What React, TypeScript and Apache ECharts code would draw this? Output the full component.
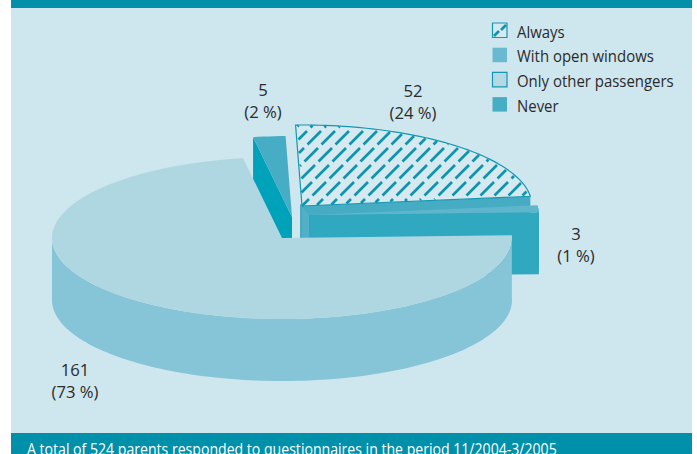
import React, { useEffect, useRef } from "react";
import * as echarts from "echarts";

// Parents' answers: who travels in a car where smoking takes place.
const categories = ["Always", "With open windows", "Only other passengers", "Never"];
const counts = [52, 3, 161, 5];
const percentLabels = ["24 %", "1 %", "73 %", "2 %"];
const footnote = "A total of 524 parents responded to questionnaires in the period 11/2004-3/2005";

const WIDTH = 697;
const HEIGHT = 454;
const RX = 230;
const RY = 81;
const DEPTH = 62;
const START_DEG = 91.6;

const centers = [
  [302, 206],
  [309, 215],
  [282, 238],
  [292, 217],
];
const topFills = ["#d4e9f0", "#5fb6cc", "#afd7e2", "#47adc5"];
const wallFills = ["#45acc4", "#2fa8c0", "#86c4d7", "#00a2b9"];
const labelSpots = [
  [413, 101],
  [576, 244],
  [75, 380],
  [263, 100],
];

const INK = "#2b2b2b";
const TEAL = "#0090aa";
const FONT = '"Open Sans", sans-serif';

const total = counts.reduce((a, b) => a + b, 0);

function sliceAngles(index: number) {
  let from = START_DEG;
  for (let i = 0; i < index; i++) from -= (counts[i] / total) * 360;
  return [from, from - (counts[index] / total) * 360];
}

function arcPoints(cx: number, cy: number, a: number, b: number, dy = 0) {
  const n = Math.max(2, Math.ceil(Math.abs(a - b) / 1.5));
  const pts: number[][] = [];
  for (let i = 0; i <= n; i++) {
    const t = ((a + ((b - a) * i) / n) * Math.PI) / 180;
    pts.push([cx + RX * Math.cos(t), cy - RY * Math.sin(t) + dy]);
  }
  return pts;
}

// Dashed 45-degree hatching, cut to the inside of the elliptical sector.
function hatchSegments(cx: number, cy: number, a: number, b: number) {
  const inside = (x: number, y: number) => {
    const u = (x - cx) / RX;
    const v = (cy - y) / RY;
    if (u * u + v * v > 0.99) return false;
    const deg = (Math.atan2(v, u) * 180) / Math.PI;
    return deg <= a - 0.4 && deg >= b + 0.8;
  };
  const segs: number[][] = [];
  const pitch = 14;
  const rowPitch = 17;
  const dash = 13.5;
  for (let c = 4; c < 800; c += pitch) {
    for (let y0 = 97; y0 < 230; y0 += rowPitch) {
      let start: number[] | null = null;
      let last: number[] | null = null;
      for (let s = 0; s <= dash; s += 0.5) {
        const y = y0 + s;
        const x = c - y;
        if (inside(x, y)) {
          if (!start) start = [x, y];
          last = [x, y];
        }
      }
      if (start && last && start !== last) segs.push([start[0], start[1], last[0], last[1]]);
    }
  }
  return segs;
}

function renderSlice(params: any, api: any) {
  const i = api.value(0);
  const [cx, cy] = centers[i];
  const [a, b] = sliceAngles(i);
  const children: any[] = [];
  const rim = arcPoints(cx, cy, a, b);

  // Outer wall: only the large slice and the thin one show their rim.
  const wallRanges: number[][] = [];
  if (i === 2) wallRanges.push([a, -180]);
  if (i === 1) wallRanges.push([a, b]);
  wallRanges.forEach(([p, q]) => {
    const top = arcPoints(cx, cy, p, q);
    const bottom = arcPoints(cx, cy, q, p, DEPTH);
    children.push({
      type: "polygon",
      shape: { points: [...top, ...bottom] },
      style: { fill: wallFills[i] },
    });
  });

  // Radial cut face: the clockwise edge for most slices, the far edge for the small one.
  if (i !== 2) {
    const lower = i === 3 ? rim[0] : rim[rim.length - 1];
    children.unshift({
      type: "polygon",
      shape: {
        points: [
          [cx, cy],
          lower,
          [lower[0], lower[1] + DEPTH],
          [cx, cy + DEPTH],
        ],
      },
      style: { fill: wallFills[i] },
    });
  }
  if (i === 0) {
    // Inner corner of the hatched slice, seen past the thin slice.
    children.push({
      type: "polygon",
      shape: { points: [[cx - 2, cy - 2], [cx + 1, cy], [cx + 1, cy + 32], [cx - 2, cy + 32]] },
      style: { fill: wallFills[i] },
    });
  }
  if (i === 1) {
    // Lighter inner face of the thin slice, next to its apex.
    children.push({
      type: "polygon",
      shape: { points: [[cx - 7, cy - 8], [cx, cy], [cx, cy + 23], [cx - 7, cy + 23]] },
      style: { fill: "#52b0c6" },
    });
  }

  children.push({
    type: "polygon",
    shape: { points: [[cx, cy], ...rim] },
    style:
      i === 0
        ? { fill: topFills[i], stroke: "#1597b2", lineWidth: 1.2 }
        : { fill: topFills[i] },
  });

  if (i === 0) {
    hatchSegments(cx, cy, a, b).forEach(([x1, y1, x2, y2]) => {
      children.push({
        type: "line",
        shape: { x1, y1, x2, y2 },
        style: { stroke: "#0f93ae", lineWidth: 2.6 },
      });
    });
  }
  return { type: "group", children };
}

function legendGraphics() {
  const items: any[] = [];
  categories.forEach((name, i) => {
    const y = 23 + i * 24.7;
    const legendFill = ["#d4e9f0", "#69b9d0", "#b5d9e4", "#47adc5"][i];
    const outlined = i === 0 || i === 2;
    items.push({
      type: "rect",
      shape: { x: 492.5, y, width: 14.5, height: 14.5 },
      style: outlined
        ? { fill: legendFill, stroke: "#1597b2", lineWidth: 1.2 }
        : { fill: legendFill },
    });
    if (i === 0) {
      [[494, y + 13, 499, y + 8], [501, y + 7, 506, y + 2]].forEach(([x1, y1, x2, y2]) =>
        items.push({
          type: "line",
          shape: { x1, y1, x2, y2 },
          style: { stroke: "#0f93ae", lineWidth: 2.6 },
        })
      );
    }
    items.push({
      type: "text",
      x: 517,
      y: y + 8.5,
      scaleX: 0.935,
      style: { text: name, fill: INK, font: `16px ${FONT}`, textVerticalAlign: "middle" },
    });
  });
  return items;
}

function valueLabels() {
  return categories.map((_, i) => ({
    type: "text",
    x: labelSpots[i][0],
    y: labelSpots[i][1],
    scaleX: 0.98,
    style: {
      text: `${counts[i]}\n(${percentLabels[i]})`,
      fill: INK,
      font: `17px ${FONT}`,
      align: "center",
      verticalAlign: "middle",
      lineHeight: 22,
    },
  }));
}

export default function App() {
  const ref = useRef<HTMLDivElement>(null);
  useEffect(() => {
    document.body.style.margin = "0";
    const chart = echarts.init(ref.current!, undefined, { renderer: "svg" });
    chart.setOption({
      animation: false,
      backgroundColor: "#ffffff",
      graphic: {
        elements: [
          {
            type: "rect",
            z: -10,
            shape: { x: 11, y: 0, width: 681, height: 454 },
            style: { fill: "#cee6ee" },
          },
          {
            type: "rect",
            z: -9,
            shape: { x: 11, y: 0, width: 681, height: 8 },
            style: { fill: TEAL },
          },
          {
            type: "rect",
            z: -9,
            shape: { x: 11, y: 433, width: 681, height: 21 },
            style: { fill: TEAL },
          },
          {
            type: "text",
            x: 27,
            y: 441,
            scaleX: 0.91,
            style: { text: footnote, fill: "#ffffff", font: `15.5px ${FONT}` },
          },
          ...legendGraphics(),
          ...valueLabels(),
        ],
      },
      series: [
        {
          type: "custom",
          coordinateSystem: "none",
          silent: true,
          // Painted back to front so the large slice overlaps its neighbours.
          data: [[3], [0], [1], [2]],
          encode: { value: 0 },
          renderItem: renderSlice,
        },
      ],
    });
    return () => chart.dispose();
  }, []);
  return <div ref={ref} style={{ width: WIDTH, height: HEIGHT }} />;
}
